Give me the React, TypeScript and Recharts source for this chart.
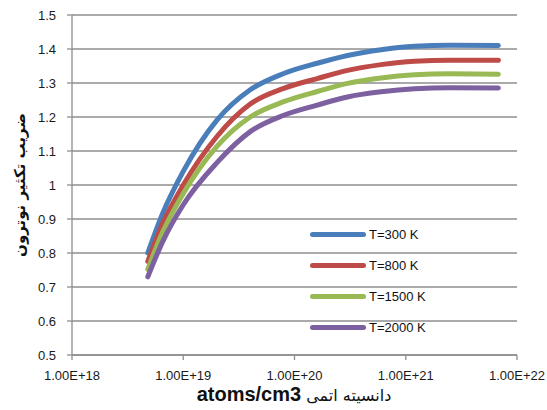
import { LineChart, Line, XAxis, YAxis, CartesianGrid, Legend, Label } from "recharts";

// atomic density (atoms/cm3) and multiplication factor per temperature
const density = [4.8e18, 6.5e18, 1e19, 2e19, 4e19, 8e19, 1.6e20, 3e20, 6e20, 1.2e21, 2.5e21, 6.8e21];
const t300 = [0.8, 0.915, 1.04, 1.19, 1.28, 1.328, 1.358, 1.381, 1.398, 1.408, 1.411, 1.41];
const t800 = [0.775, 0.885, 1.0, 1.142, 1.238, 1.284, 1.313, 1.337, 1.354, 1.364, 1.367, 1.367];
const t1500 = [0.752, 0.86, 0.975, 1.113, 1.2, 1.245, 1.275, 1.299, 1.315, 1.324, 1.327, 1.326];
const t2000 = [0.73, 0.832, 0.942, 1.065, 1.157, 1.205, 1.235, 1.259, 1.274, 1.283, 1.286, 1.285];

const xTicks = [1e18, 1e19, 1e20, 1e21, 1e22];
const yTicks = [0.5, 0.6, 0.7, 0.8, 0.9, 1, 1.1, 1.2, 1.3, 1.4, 1.5];

const series = [
  { key: "t300", name: "T=300 K", color: "#4a7ebb", values: t300 },
  { key: "t800", name: "T=800 K", color: "#be4b48", values: t800 },
  { key: "t1500", name: "T=1500 K", color: "#98b954", values: t1500 },
  { key: "t2000", name: "T=2000 K", color: "#7d60a0", values: t2000 },
];

const data = density.map((x, i) => {
  const row: Record<string, number> = { x };
  series.forEach((s) => {
    row[s.key] = s.values[i];
  });
  return row;
});

const FONT = "'Liberation Sans', Arial, sans-serif";
const GRID = "#8e8e8e";

function LegendBox() {
  return (
    <div style={{ fontFamily: FONT, fontSize: 13, color: "#111" }}>
      {series.map((s) => (
        <div key={s.key} style={{ display: "flex", alignItems: "center", height: 31 }}>
          <div
            style={{
              width: 56,
              height: 5,
              borderRadius: 3,
              background: s.color,
              marginRight: 3,
            }}
          />
          <span>{s.name}</span>
        </div>
      ))}
    </div>
  );
}

export default function App() {
  return (
    <div style={{ position: "absolute", left: 0, top: 0, background: "#fff" }}>
      <LineChart
        width={547}
        height={410}
        data={data}
        margin={{ top: 15, right: 30, bottom: 0, left: 0 }}
      >
        <CartesianGrid horizontal vertical={false} stroke={GRID} strokeWidth={1.3} />
        <XAxis
          dataKey="x"
          type="number"
          scale="log"
          domain={[1e18, 1e22]}
          ticks={xTicks}
          allowDataOverflow
          height={55}
          tickFormatter={(v: number) => "1.00E+" + Math.round(Math.log10(v))}
          tick={{ fontSize: 13, fill: "#1a1a1a", fontFamily: FONT }}
          tickSize={5}
          tickMargin={11}
          stroke={GRID}
          strokeWidth={1.3}
        >
          <Label
            content={() => (
              <text x={294} y={401} textAnchor="middle" fill="#111">
                <tspan fontFamily={FONT} fontWeight="bold" fontSize={20}>
                  atoms/cm3
                </tspan>
                <tspan fontFamily="'DejaVu Sans', sans-serif" fontSize={16}>
                  {" دانسیته اتمی"}
                </tspan>
              </text>
            )}
          />
        </XAxis>
        <YAxis
          type="number"
          domain={[0.5, 1.5]}
          ticks={yTicks}
          width={72}
          tickFormatter={(v: number) => String(Math.round(v * 10) / 10)}
          tick={{ fontSize: 13, fill: "#1a1a1a", fontFamily: FONT }}
          tickSize={5}
          tickMargin={11}
          stroke={GRID}
          strokeWidth={1.3}
        >
          <Label
            content={() => (
              <text
                x={20}
                y={185}
                textAnchor="middle"
                dominantBaseline="middle"
                transform="rotate(-90 20 185)"
                fontFamily="'DejaVu Sans', sans-serif"
                fontWeight="bold"
                fontSize={15}
                fill="#111"
              >
                ضریب تکثیر نوترون
              </text>
            )}
          />
        </YAxis>
        <Legend
          layout="vertical"
          align="center"
          verticalAlign="middle"
          content={() => <LegendBox />}
          wrapperStyle={{ left: 310, top: 219, width: 150 }}
        />
        {series.map((s) => (
          <Line
            key={s.key}
            dataKey={s.key}
            name={s.name}
            type="monotone"
            stroke={s.color}
            strokeWidth={5}
            strokeLinecap="round"
            dot={false}
            isAnimationActive={false}
          />
        ))}
      </LineChart>
    </div>
  );
}
